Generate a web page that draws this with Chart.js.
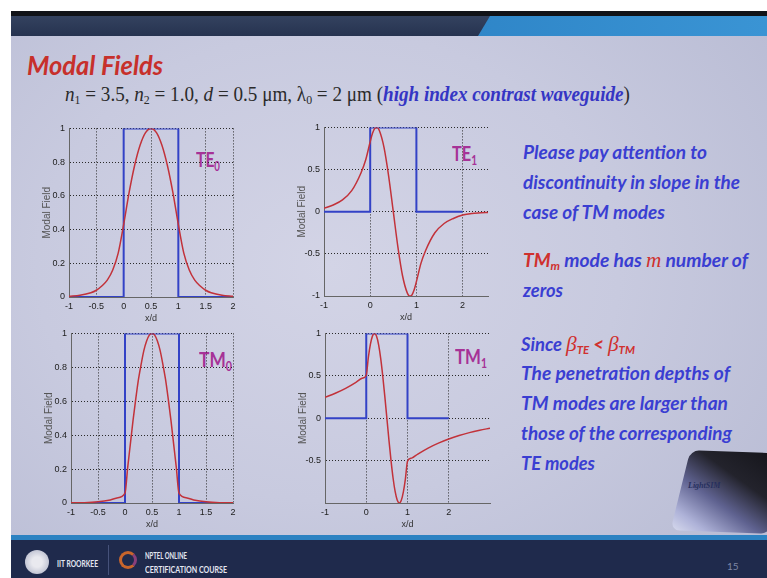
<!DOCTYPE html>
<html>
<head>
<meta charset="utf-8">
<title>Modal Fields</title>
<script src="https://cdn.jsdelivr.net/npm/chart.js@4.4.1/dist/chart.umd.min.js"></script>
<style>
  html, body { margin: 0; padding: 0; }
  body { width: 767px; height: 578px; position: relative; overflow: hidden; background: #fff; }
  #slide { position: absolute; left: 11px; top: 11px; width: 756px; height: 567px;
    background: radial-gradient(ellipse 70% 75% at 42% 45%, #d3d4e6 0%, #c8cadf 55%, #babdd5 100%); }
  #topbar { position: absolute; left: 11px; top: 11px; width: 756px; height: 5px; background: #111318; }
  #header { position: absolute; left: 11px; top: 16px; width: 756px; height: 20px;
    background: linear-gradient(180deg, #34425f, #263350); }
  #header-right { position: absolute; left: 470px; top: 16px; width: 297px; height: 20px;
    background: linear-gradient(90deg, #2f86c8, #3a94d4); clip-path: polygon(20px 0, 100% 0, 100% 100%, 8px 100%); }
  #stripe { position: absolute; left: 11px; top: 535px; width: 756px; height: 5px; background: #2c82c2; }
  #footer { position: absolute; left: 11px; top: 540px; width: 756px; height: 38px; background: #1f2a4c; }
  .t { position: absolute; white-space: nowrap; transform-origin: 0 0; line-height: 1; }
  .rt { font: italic 700 19px Lato; color: #3a3ed2; }
  .red { color: #d0302e; }
  .lbl { font: 700 21px Lato; color: #a63297; }
  sub { font-size: .62em; vertical-align: -.28em; line-height: 0; }
  .math { font-family: 'Liberation Serif'; font-style: italic; font-weight: 400; }
  canvas { position: absolute; }
  #emblem { position: absolute; left: 25px; top: 550px; width: 24px; height: 24px; border-radius: 50%;
    background: radial-gradient(circle, #e9e9ef 30%, #bfc2d2 75%, #8f94ab 100%); }
  #sep { position: absolute; left: 108px; top: 545px; width: 1px; height: 30px; background: #46527a; }
  #nptel { position: absolute; left: 119px; top: 551px; width: 12px; height: 12px; border-radius: 50%;
    border: 3px solid #c8652c; border-right-color: #8a3f7a; }
  .ft { font: 700 9px Lato; color: #e4e7f2; }
  #pic { position: absolute; left: 680px; top: 452px; width: 100px; height: 80px; border-radius: 9px;
    transform: skewX(-12deg) rotate(2deg); overflow: hidden;
    background: linear-gradient(210deg, #121217 0%, #23232c 38%, #5f6290 62%, #aeb2d8 85%, #d8dbee 100%); }
</style>
</head>
<body>
<div id="slide"></div>
<div id="topbar"></div>
<div id="header"></div>
<div id="header-right"></div>
<div id="stripe"></div>
<div id="footer"></div>

<div class="t" data-w="136" style="left:27px;top:49px;font:italic 700 26px Lato;color:#c7302b">Modal Fields</div>
<div class="t" data-w="565" style="left:65px;top:83px;font:20px 'Liberation Serif';color:#2a2a2a"><i>n</i><sub>1</sub> = 3.5, <i>n</i><sub>2</sub> = 1.0, <i>d</i> = 0.5 μm, λ<sub>0</sub> = 2 μm (<b><i style="color:#3535c4">high index contrast waveguide</i></b>)</div>

<div class="t rt" data-w="184" style="left:523px;top:140px">Please pay attention to</div>
<div class="t rt" data-w="217" style="left:523px;top:170px">discontinuity in slope in the</div>
<div class="t rt" data-w="142" style="left:523px;top:200px">case of TM modes</div>
<div class="t rt" data-w="225" style="left:523px;top:248px"><span class="red">TM<sub>m</sub></span> mode has <span class="red math" style="font-size:21px">m</span> number of</div>
<div class="t rt" data-w="40" style="left:523px;top:278px">zeros</div>
<div class="t rt" data-w="114" style="left:521px;top:331px">Since <span class="red"><span class="math" style="font-size:22px">β</span><sub>TE</sub> &lt; <span class="math" style="font-size:22px">β</span><sub>TM</sub></span></div>
<div class="t rt" data-w="209" style="left:521px;top:361px">The penetration depths of</div>
<div class="t rt" data-w="207" style="left:521px;top:391px">TM modes are larger than</div>
<div class="t rt" data-w="211" style="left:521px;top:421px">those of the corresponding</div>
<div class="t rt" data-w="74" style="left:521px;top:451px">TE modes</div>

<div id="pic"></div>
<div class="t" style="left:688px;top:481px;font:italic 700 8px 'Liberation Serif';color:#27305e">LightSIM</div>

<div id="emblem"></div>
<div class="t ft" data-w="41" style="left:57px;top:558px">IIT ROORKEE</div>
<div id="sep"></div>
<div id="nptel"></div>
<div class="t ft" data-w="42" style="left:145px;top:550px">NPTEL ONLINE</div>
<div class="t ft" data-w="82" style="left:145px;top:564px">CERTIFICATION COURSE</div>
<div class="t" style="left:727px;top:560px;font:10px Lato;color:#7d86a6">15</div>

<div class="t lbl" data-w="24" style="left:196px;top:146px">TE<sub>0</sub></div>
<div class="t lbl" data-w="25" style="left:452px;top:140px">TE<sub>1</sub></div>
<div class="t lbl" data-w="33" style="left:199px;top:346px">TM<sub>0</sub></div>
<div class="t lbl" data-w="32" style="left:455px;top:343px">TM<sub>1</sub></div>

<script>
// field profiles read along x/d
const te0X = [-1, -0.8, -0.6, -0.5, -0.4, -0.3, -0.2, -0.1, 0, 0.1, 0.2, 0.3, 0.4, 0.5, 0.6, 0.7, 0.8, 0.9, 1, 1.1, 1.2, 1.3, 1.4, 1.5, 1.6, 1.8, 2];
const te0Y = [0.004, 0.01, 0.025, 0.04, 0.065, 0.10, 0.16, 0.26, 0.43, 0.62, 0.78, 0.90, 0.975, 1.0, 0.975, 0.90, 0.78, 0.62, 0.43, 0.26, 0.16, 0.10, 0.065, 0.04, 0.025, 0.01, 0.004];

const te1X = [-1, -0.8, -0.6, -0.4, -0.2, -0.1, 0, 0.05, 0.1, 0.15, 0.2, 0.3, 0.4, 0.5, 0.6, 0.7, 0.8, 0.85, 0.9, 0.95, 1, 1.1, 1.2, 1.4, 1.6, 1.8, 2, 2.2, 2.4, 2.55];
const te1Y = [0.04, 0.08, 0.14, 0.25, 0.46, 0.61, 0.83, 0.93, 0.99, 1.0, 0.96, 0.76, 0.42, 0, -0.42, -0.76, -0.96, -1.0, -0.99, -0.93, -0.83, -0.61, -0.46, -0.25, -0.14, -0.08, -0.04, -0.02, -0.013, -0.008];

const tm0X = [-1, -0.75, -0.5, -0.3, -0.15, 0, 0.05, 0.1, 0.15, 0.2, 0.25, 0.3, 0.35, 0.4, 0.45, 0.5, 0.55, 0.6, 0.65, 0.7, 0.75, 0.8, 0.85, 0.9, 0.95, 1, 1.15, 1.3, 1.5, 1.75, 2];
const tm0Y = [0.001, 0.002, 0.007, 0.016, 0.03, 0.058, 0.21, 0.35, 0.49, 0.615, 0.73, 0.82, 0.90, 0.955, 0.99, 1.0, 0.99, 0.955, 0.90, 0.82, 0.73, 0.615, 0.49, 0.35, 0.21, 0.058, 0.03, 0.016, 0.007, 0.002, 0.001];

const tm1X = [-1, -0.75, -0.5, -0.25, -0.1, 0, 0.05, 0.1, 0.15, 0.2, 0.25, 0.3, 0.35, 0.4, 0.45, 0.5, 0.55, 0.6, 0.65, 0.7, 0.75, 0.8, 0.85, 0.9, 0.95, 1, 1.1, 1.25, 1.5, 1.75, 2, 2.25, 2.5, 2.75, 3];
const tm1Y = [0.245, 0.294, 0.352, 0.423, 0.471, 0.507, 0.713, 0.87, 0.968, 1.0, 0.965, 0.864, 0.705, 0.498, 0.258, 0, -0.258, -0.498, -0.705, -0.864, -0.965, -1.0, -0.968, -0.87, -0.713, -0.507, -0.471, -0.423, -0.352, -0.294, -0.245, -0.204, -0.17, -0.142, -0.118];

// refractive index profile (core between 0 and 1)
const stepX = [-1, 0, 0, 1, 1, 2];
const stepY = [0, 0, 1, 1, 0, 0];

// tick positions
const xTicksHalf = [-1, -0.5, 0, 0.5, 1, 1.5, 2];
const xTicksOne = [-1, 0, 1, 2];
const yTicksFifth = [0, 0.2, 0.4, 0.6, 0.8, 1];
const yTicksHalf = [-1, -0.5, 0, 0.5, 1];
const yTicksHalfNoMin = [-0.5, 0, 0.5, 1];

// fit slide text to its line widths
document.querySelectorAll('.t[data-w]').forEach(el => {
  const w = el.getBoundingClientRect().width;
  el.style.transform = 'scaleX(' + (el.dataset.w / w) + ')';
});

Chart.defaults.font.family = "'Liberation Sans', Arial, sans-serif";

function plot(box, xs, ys, xMax, xTicks, yMin, yTicks) {
  const cv = document.createElement('canvas');
  const left = box.l - 34, top = box.t - 8;
  cv.width = box.r + 10 - left;
  cv.height = box.b + 31 - top;
  cv.style.left = left + 'px';
  cv.style.top = top + 'px';
  document.body.appendChild(cv);

  const tickFont = { size: 9 };
  new Chart(cv, {
    type: 'line',
    data: {
      datasets: [
        { data: xs.map((x, i) => ({ x, y: ys[i] })), borderColor: '#c2323a', borderWidth: 1.5,
          pointRadius: 0, cubicInterpolationMode: 'monotone' },
        { data: stepX.map((x, i) => ({ x, y: stepY[i] })), borderColor: '#3342c6', borderWidth: 2,
          pointRadius: 0, tension: 0 }
      ]
    },
    options: {
      responsive: false,
      animation: false,
      devicePixelRatio: 1,
      layout: { padding: { left: 2, top: 8, right: 10, bottom: 0 } },
      plugins: { legend: { display: false }, tooltip: { enabled: false } },
      scales: {
        x: {
          type: 'linear', min: -1, max: xMax,
          afterBuildTicks: s => { s.ticks = xTicks.map(v => ({ value: v })); },
          afterFit: s => { s.height = 31; },
          grid: { color: '#2a2a2a', lineWidth: 1, drawTicks: false },
          border: { color: '#666', width: 1, dash: [1, 2] },
          ticks: { padding: 4, color: '#222', font: tickFont, maxRotation: 0, autoSkip: false, callback: v => String(v) },
          title: { display: true, text: 'x/d', color: '#333', font: { size: 9 }, padding: { top: 0, bottom: 4 } }
        },
        y: {
          type: 'linear', min: yMin, max: 1,
          afterBuildTicks: s => { s.ticks = yTicks.map(v => ({ value: v })); },
          afterFit: s => { s.width = 32; },
          grid: { color: '#2a2a2a', lineWidth: 1, drawTicks: false },
          border: { color: '#666', width: 1, dash: [1, 2] },
          ticks: { padding: 4, color: '#222', font: tickFont, autoSkip: false, callback: v => String(v) },
          title: { display: true, text: 'Modal Field', color: '#555', font: { size: 10 }, padding: { top: 4, bottom: 0 } }
        }
      }
    }
  });
}

plot({ l: 69, r: 233, t: 127, b: 297 }, te0X, te0Y, 2, xTicksHalf, 0, yTicksFifth);
plot({ l: 324, r: 488, t: 126, b: 296 }, te1X, te1Y, 2.55, xTicksOne, -1, yTicksHalf);
plot({ l: 71, r: 233, t: 332, b: 503 }, tm0X, tm0Y, 2, xTicksHalf, 0, yTicksFifth);
plot({ l: 325, r: 490, t: 332, b: 503 }, tm1X, tm1Y, 3, xTicksOne, -1, yTicksHalfNoMin);
</script>
</body>
</html>
